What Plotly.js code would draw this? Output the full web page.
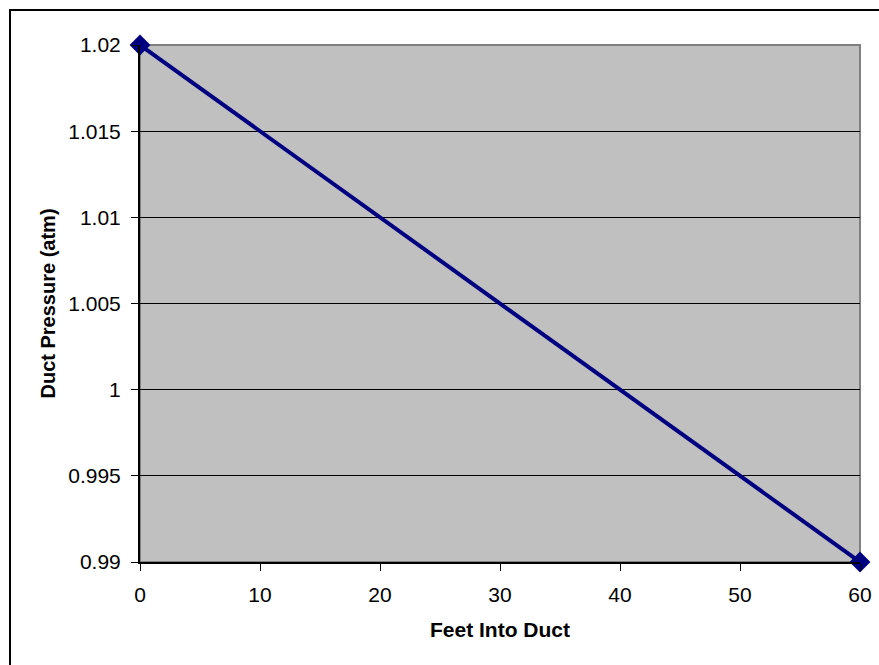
<!DOCTYPE html>
<html>
<head>
<meta charset="utf-8">
<script src="https://cdn.plot.ly/plotly-3.0.1.min.js"></script>
<style>
html,body{margin:0;padding:0;background:#fff;overflow:hidden;}
#frame{position:absolute;left:9px;top:9px;width:900px;height:700px;border-left:2px solid #000;border-top:2px solid #000;pointer-events:none;z-index:5;}
#chart{position:absolute;left:0;top:0;width:879px;height:665px;}
</style>
</head>
<body>
<div id="chart"></div>
<div id="frame"></div>
<script>
const feet = [0, 60];
const pressure = [1.02, 0.99];
const xTicks = [0, 10, 20, 30, 40, 50, 60];
const yTicks = [0.99, 0.995, 1, 1.005, 1.01, 1.015, 1.02];
const yTickLabels = ['0.99', '0.995', '1', '1.005', '1.01', '1.015', '1.02'];

const trace = {
  x: feet, y: pressure, type: 'scatter', mode: 'lines+markers',
  line: {color: '#000080', width: 4},
  marker: {symbol: 'diamond', size: 16, color: '#000080'},
  cliponaxis: false, hoverinfo: 'skip'
};
const fam = 'Liberation Sans, Arial, sans-serif';
const font = {family: fam, size: 21, color: '#000'};
const layout = {
  width: 879, height: 665,
  margin: {l: 140, r: 19, t: 45, b: 103},
  paper_bgcolor: '#fff', plot_bgcolor: '#c0c0c0',
  showlegend: false,
  font: font,
  xaxis: {
    range: [0, 60], tickvals: xTicks, ticktext: xTicks.map(String),
    showgrid: false, zeroline: false, showline: true, linecolor: '#000', linewidth: 2,
    ticks: 'outside', ticklen: 7, tickcolor: '#000', tickwidth: 1,
    ticklabelstandoff: 6,
    tickfont: font,
    title: {text: '<b>Feet Into Duct</b>', font: {family: fam, size: 21, color: '#000'}, standoff: 17}
  },
  yaxis: {
    range: [0.99, 1.02], tickvals: yTicks, ticktext: yTickLabels,
    showgrid: true, gridcolor: '#000', gridwidth: 1,
    zeroline: false, showline: true, linecolor: '#000', linewidth: 2,
    ticks: 'outside', ticklen: 7, tickcolor: '#000', tickwidth: 1,
    ticklabelstandoff: 6,
    tickfont: font,
    title: {text: '<b>Duct Pressure (atm)</b>', font: {family: fam, size: 20, color: '#000'}, standoff: 7}
  },
  shapes: [{type: 'rect', xref: 'paper', yref: 'paper', x0: 0, x1: 1, y0: 0, y1: 1,
            line: {color: '#808080', width: 2}, layer: 'below'}]
};
Plotly.newPlot('chart', [trace], layout, {displayModeBar: false, staticPlot: true});
</script>
</body>
</html>
